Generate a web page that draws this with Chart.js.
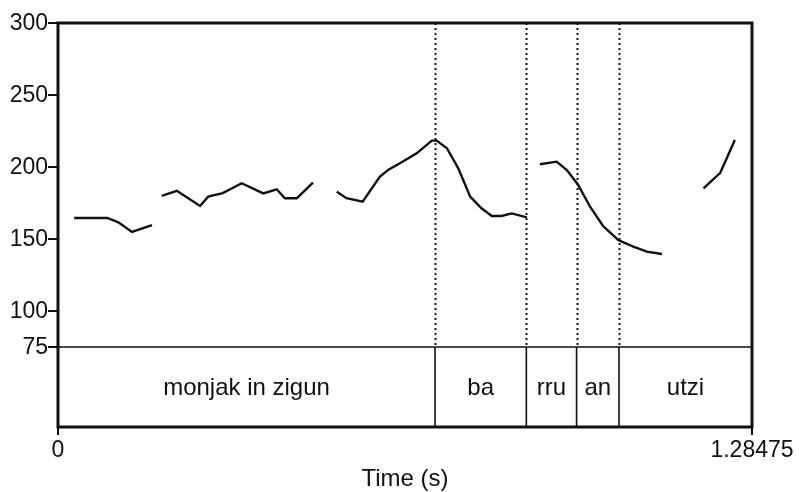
<!DOCTYPE html>
<html>
<head>
<meta charset="utf-8">
<script src="https://cdn.jsdelivr.net/npm/chart.js@4"></script>
<style>
  body { margin: 0; background: #fff; }
</style>
</head>
<body>
<canvas id="pitch" width="799" height="492"></canvas>
<script>
// axis range
const xMax = 1.28475;
const yMax = 300;
const tierFloor = 75;
const yMin = 19.44; // bottom of the text tier under the 75 Hz line

// tick labels
const yTicks = [75, 100, 150, 200, 250, 300];
const xTickValues = [0, xMax];
const xTickLabels = ["0", "1.28475"];
const xTitle = "Time (s)";

// pitch contour, null = unvoiced gap
const pitchTime = [
  0.030, 0.091, 0.111, 0.137, 0.174, 0.183,
  0.192, 0.220, 0.263, 0.278, 0.305, 0.340, 0.380, 0.405, 0.420, 0.442, 0.472, 0.494,
  0.516, 0.534, 0.564, 0.596, 0.611, 0.633, 0.664, 0.692, 0.701, 0.720, 0.741, 0.763,
  0.784, 0.803, 0.821, 0.840, 0.868, 0.880,
  0.892, 0.923, 0.942, 0.963, 0.985, 1.009, 1.037, 1.065, 1.090, 1.118, 1.156,
  1.195, 1.226, 1.253
];
const pitchHz = [
  164.6, 164.6, 161.8, 154.9, 159.7, null,
  179.9, 183.5, 172.9, 179.4, 181.9, 188.7, 181.7, 184.5, 178.3, 178.3, 189.1, null,
  182.9, 178.3, 175.9, 193.3, 197.9, 202.6, 209.5, 218.3, 218.3, 213.0, 199.1, 179.4,
  171.3, 166.0, 166.0, 167.8, 165.0, null,
  201.9, 203.7, 197.9, 187.5, 172.4, 159.0, 149.3, 144.7, 141.2, 139.6, null,
  185.2, 196.0, 218.8
];

// segment tier
const boundaries = [0.698, 0.867, 0.960, 1.0385];
const segments = ["monjak in zigun", "ba", "rru", "an", "utzi"];

const font = '23px "Liberation Sans", Arial, sans-serif';
const bigFont = '24px "Liberation Sans", Arial, sans-serif';

const praatFrame = {
  id: "praatFrame",
  beforeDatasetsDraw(chart) {
    const ctx = chart.ctx;
    const xs = chart.scales.x, ys = chart.scales.y;
    const top = ys.getPixelForValue(yMax);
    const tierTop = ys.getPixelForValue(tierFloor);
    ctx.save();
    ctx.strokeStyle = "#111";
    ctx.lineWidth = 2;
    ctx.setLineDash([2, 3]);
    boundaries.forEach((b) => {
      const x = Math.round(xs.getPixelForValue(b)) + 0.5;
      ctx.beginPath();
      ctx.moveTo(x, top);
      ctx.lineTo(x, tierTop);
      ctx.stroke();
    });
    ctx.restore();
  },
  afterDatasetsDraw(chart) {
    const ctx = chart.ctx;
    const xs = chart.scales.x, ys = chart.scales.y;
    const left = xs.getPixelForValue(0), right = xs.getPixelForValue(xMax);
    const top = ys.getPixelForValue(yMax), bottom = ys.getPixelForValue(yMin);
    const tierTop = ys.getPixelForValue(tierFloor);
    ctx.save();
    ctx.strokeStyle = "#111";
    ctx.fillStyle = "#111";

    // tier lines
    ctx.lineWidth = 1.6;
    ctx.beginPath();
    ctx.moveTo(left, tierTop);
    ctx.lineTo(right, tierTop);
    boundaries.forEach((b) => {
      const x = xs.getPixelForValue(b);
      ctx.moveTo(x, tierTop);
      ctx.lineTo(x, bottom);
    });
    ctx.stroke();

    // tier labels
    ctx.font = bigFont;
    ctx.textAlign = "center";
    ctx.textBaseline = "middle";
    const edges = [0, ...boundaries, xMax];
    segments.forEach((s, i) => {
      const x = (xs.getPixelForValue(edges[i]) + xs.getPixelForValue(edges[i + 1])) / 2;
      ctx.fillText(s, x, (tierTop + bottom) / 2 + 1);
    });

    // frame
    ctx.lineWidth = 3;
    ctx.strokeRect(left, top, right - left, bottom - top);

    // y ticks
    ctx.font = font;
    ctx.lineWidth = 2;
    ctx.textAlign = "right";
    yTicks.forEach((v) => {
      const y = ys.getPixelForValue(v);
      ctx.beginPath();
      ctx.moveTo(left - 10, y);
      ctx.lineTo(left, y);
      ctx.stroke();
      ctx.fillText(String(v), left - 10, y + 1);
    });

    // x ticks
    ctx.textAlign = "center";
    ctx.textBaseline = "top";
    xTickValues.forEach((v, i) => {
      const x = xs.getPixelForValue(v);
      ctx.beginPath();
      ctx.moveTo(x, bottom);
      ctx.lineTo(x, bottom + 8);
      ctx.stroke();
      ctx.fillText(xTickLabels[i], x, bottom + 12);
    });
    ctx.font = bigFont;
    ctx.fillText(xTitle, (left + right) / 2, bottom + 40);
    ctx.restore();
  }
};

new Chart(document.getElementById("pitch"), {
  type: "line",
  data: {
    datasets: [{
      data: pitchTime.map((t, i) => ({ x: t, y: pitchHz[i] })),
      borderColor: "#111",
      borderWidth: 2.4,
      pointRadius: 0,
      tension: 0,
      spanGaps: false,
      fill: false
    }]
  },
  options: {
    responsive: false,
    animation: false,
    layout: { padding: { left: 58, top: 23, right: 47, bottom: 65 } },
    plugins: { legend: { display: false }, tooltip: { enabled: false } },
    scales: {
      x: { type: "linear", min: 0, max: xMax, display: false },
      y: { type: "linear", min: yMin, max: yMax, display: false }
    }
  },
  plugins: [praatFrame]
});
</script>
</body>
</html>
